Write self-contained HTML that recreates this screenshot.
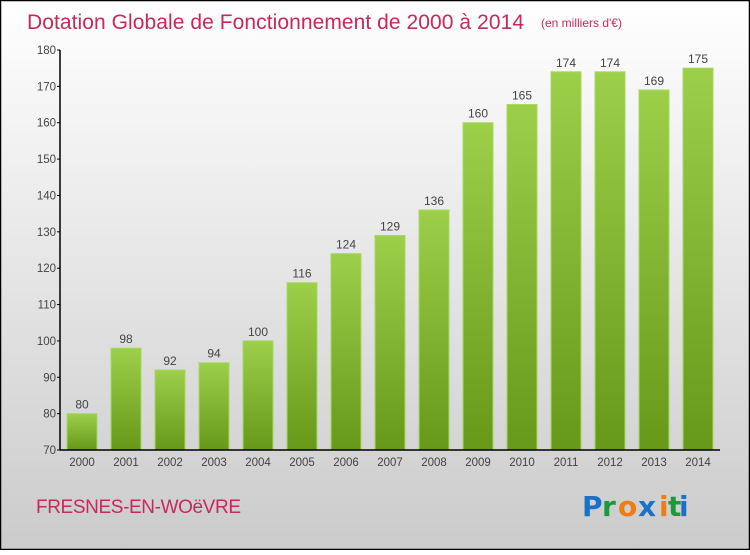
<!DOCTYPE html>
<html><head><meta charset="utf-8"><style>
html,body{margin:0;padding:0}
body{width:750px;height:550px;overflow:hidden;font-family:"Liberation Sans",sans-serif}
</style></head><body>
<svg id="chart" width="750" height="550" xmlns="http://www.w3.org/2000/svg">
<defs>
<linearGradient id="bg" x1="0" y1="0" x2="0" y2="1"><stop offset="0" stop-color="#ffffff"/><stop offset="1" stop-color="#cbcbcb"/></linearGradient>
<linearGradient id="bar" x1="0" y1="0" x2="0" y2="1"><stop offset="0" stop-color="#9ccf4a"/><stop offset="1" stop-color="#66991a"/></linearGradient>
</defs>
<rect x="0.5" y="0.5" width="749" height="549" fill="url(#bg)" stroke="#000" stroke-width="1.5"/>
<text x="27" y="29" font-size="21" fill="#c8285a" textLength="497">Dotation Globale de Fonctionnement de 2000 à 2014</text>
<text x="541" y="27" font-size="12" fill="#c8285a">(en milliers d'€)</text>
<g id="bars"></g>
<g id="axes"></g>
<text x="36" y="513" font-size="19" fill="#c8285a" textLength="205">FRESNES-EN-WOëVRE</text>
<g font-size="28" font-family="DejaVu Sans,sans-serif" font-weight="bold">
<text x="582" y="516" fill="#1a72c8">P</text><text x="602" y="516" fill="#1a9a3a">r</text><text x="618" y="516" fill="#f07b10">o</text><text x="638" y="516" fill="#1a72c8">x</text><text x="659" y="516" fill="#f07b10">i</text><text x="668" y="516" fill="#1a9a3a">t</text><text x="679" y="516" fill="#1a72c8">i</text>
</g>
</svg>
<script>
const years=["2000","2001","2002","2003","2004","2005","2006","2007","2008","2009","2010","2011","2012","2013","2014"];
const values=[80,98,92,94,100,116,124,129,136,160,165,174,174,169,175];
const yTicks=[70,80,90,100,110,120,130,140,150,160,170,180];
const NS="http://www.w3.org/2000/svg";
const px0=60,px1=720,yMin=70,yMax=180,pTop=50,pBot=450;
const yS=v=>pBot-(v-yMin)/(yMax-yMin)*(pBot-pTop);
const step=(px1-px0)/years.length;
const xc=i=>px0+step*(i+0.5);
function mk(t,a,p){const e=document.createElementNS(NS,t);for(const k in a)e.setAttribute(k,a[k]);p.appendChild(e);return e;}
const barsG=document.getElementById('bars'),axesG=document.getElementById('axes');
values.forEach((v,i)=>{
 const r=mk('rect',{x:xc(i)-15,y:yS(v),width:30,height:pBot-yS(v),fill:'url(#bar)',stroke:'#a8d860','stroke-width':1},barsG);
 
 
 const t=mk('text',{x:xc(i),y:yS(v)-5,'text-anchor':'middle','font-size':12,fill:'#444'},barsG);
 t.textContent=v;
 
 
 const xl=mk('text',{x:xc(i),y:pBot+16,'text-anchor':'middle','font-size':11.5,fill:'#444'},axesG);
 xl.textContent=years[i];
 
 
});
yTicks.forEach(v=>{
 mk('line',{x1:px0-3,x2:px0,y1:yS(v),y2:yS(v),stroke:'#000'},axesG);
 const t=mk('text',{x:px0-4,y:yS(v)+4,'text-anchor':'end','font-size':11.5,fill:'#444'},axesG);
 t.textContent=v;
 
 
});
const ya=mk('line',{x1:px0,x2:px0,y1:pTop,y2:pBot,stroke:'#000','stroke-width':1.5},axesG);


const xa=mk('line',{x1:px0,x2:px1,y1:pBot,y2:pBot,stroke:'#000','stroke-width':1.5},axesG);


</script>
</body></html>
